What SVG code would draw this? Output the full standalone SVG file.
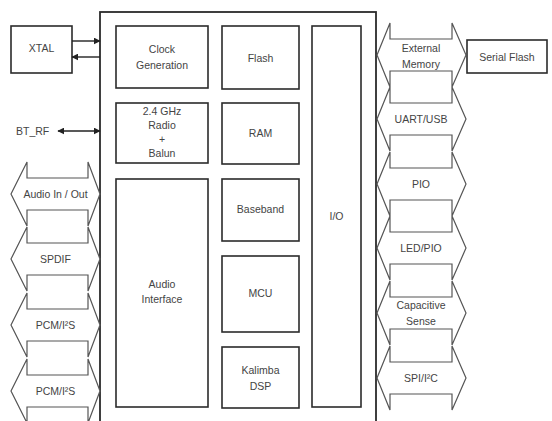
<svg xmlns="http://www.w3.org/2000/svg" width="552" height="421" viewBox="0 0 552 421">
<defs>
<style>
.blk{fill:#fff;stroke:#2b2b2b;stroke-width:1.6}
.chip{fill:#fff;stroke:#2b2b2b;stroke-width:1.8}
.hx{fill:#fff;stroke:#555;stroke-width:1.2}
.t{font-family:"Liberation Sans",Arial,sans-serif;font-size:10.5px;fill:#444;text-anchor:middle;dominant-baseline:central}
.tl{font-family:"Liberation Sans",Arial,sans-serif;font-size:10.5px;fill:#444;text-anchor:start;dominant-baseline:central}
.ln{stroke:#222;stroke-width:1.4;fill:none}
</style>
<marker id="ah" viewBox="0 0 10 10" refX="9" refY="5" markerWidth="7" markerHeight="7" orient="auto-start-reverse" markerUnits="userSpaceOnUse">
<path d="M0,0 L10,5 L0,10 z" fill="#222"/>
</marker>
<polygon id="hexL" points="0,0 16,-32 16,-16 77,-16 77,-32 89,0 77,32 77,16 16,16 16,32"/>
<polygon id="hexR" points="0,0 13,-32 13,-16 75,-16 75,-32 89,0 75,32 75,16 13,16 13,32"/>
</defs>

<g id="chip"><rect class="chip" x="100" y="12" width="276" height="420"/></g>

<g id="clock"><rect class="blk" x="116" y="26" width="92" height="62"/><text class="t" x="162" y="49">Clock</text><text class="t" x="162" y="65">Generation</text></g>
<g id="radio"><rect class="blk" x="116" y="103" width="92" height="60"/><text class="t" x="162" y="111">2.4 GHz</text><text class="t" x="162" y="125">Radio</text><text class="t" x="162" y="139">+</text><text class="t" x="162" y="153">Balun</text></g>
<g id="audio"><rect class="blk" x="116" y="179" width="92" height="228"/><text class="t" x="162" y="284">Audio</text><text class="t" x="162" y="299">Interface</text></g>
<g id="flash"><rect class="blk" x="222" y="26" width="77" height="63"/><text class="t" x="260.5" y="58">Flash</text></g>
<g id="ram"><rect class="blk" x="222" y="103" width="77" height="61"/><text class="t" x="260.5" y="133">RAM</text></g>
<g id="baseband"><rect class="blk" x="222" y="179" width="77" height="62"/><text class="t" x="260.5" y="209">Baseband</text></g>
<g id="mcu"><rect class="blk" x="222" y="256" width="77" height="76"/><text class="t" x="260.5" y="293">MCU</text></g>
<g id="dsp"><rect class="blk" x="222" y="347" width="77" height="61"/><text class="t" x="260.5" y="370">Kalimba</text><text class="t" x="260.5" y="386">DSP</text></g>
<g id="io"><rect class="blk" x="312" y="26" width="49" height="381"/><text class="t" x="336.5" y="216">I/O</text></g>

<g id="xtal"><rect class="blk" x="11" y="26" width="61" height="47"/><text class="t" x="41.5" y="48">XTAL</text></g>
<g id="btrf"><text class="tl" x="16" y="131">BT_RF</text></g>
<g id="serialflash"><rect class="blk" x="467" y="40" width="80" height="33"/><text class="t" x="507" y="57">Serial Flash</text></g>

<g id="audioio"><use href="#hexL" class="hx" x="11" y="194"/><text class="t" x="55.5" y="194">Audio In / Out</text></g>
<g id="spdif"><use href="#hexL" class="hx" x="11" y="259"/><text class="t" x="55.5" y="259">SPDIF</text></g>
<g id="pcm1"><use href="#hexL" class="hx" x="11" y="325"/><text class="t" x="55.5" y="325">PCM/I²S</text></g>
<g id="pcm2"><use href="#hexL" class="hx" x="11" y="391"/><text class="t" x="55.5" y="391">PCM/I²S</text></g>

<g id="extmem"><use href="#hexR" class="hx" x="377" y="55"/><text class="t" x="421" y="48">External</text><text class="t" x="421" y="64">Memory</text></g>
<g id="uart"><use href="#hexR" class="hx" x="377" y="119"/><text class="t" x="421" y="119">UART/USB</text></g>
<g id="pio"><use href="#hexR" class="hx" x="377" y="184"/><text class="t" x="421" y="184">PIO</text></g>
<g id="ledpio"><use href="#hexR" class="hx" x="377" y="248"/><text class="t" x="421" y="248">LED/PIO</text></g>
<g id="capsense"><use href="#hexR" class="hx" x="377" y="313"/><text class="t" x="421" y="305">Capacitive</text><text class="t" x="421" y="321">Sense</text></g>
<g id="spi"><use href="#hexR" class="hx" x="377" y="378"/><text class="t" x="421" y="378">SPI/I²C</text></g>

<g id="connectors">
<line class="ln" x1="72" y1="41" x2="100" y2="41" marker-end="url(#ah)"/>
<line class="ln" x1="100" y1="57" x2="72" y2="57" marker-end="url(#ah)"/>
<line class="ln" x1="58" y1="131" x2="100" y2="131" marker-start="url(#ah)" marker-end="url(#ah)"/>
</g>
</svg>
